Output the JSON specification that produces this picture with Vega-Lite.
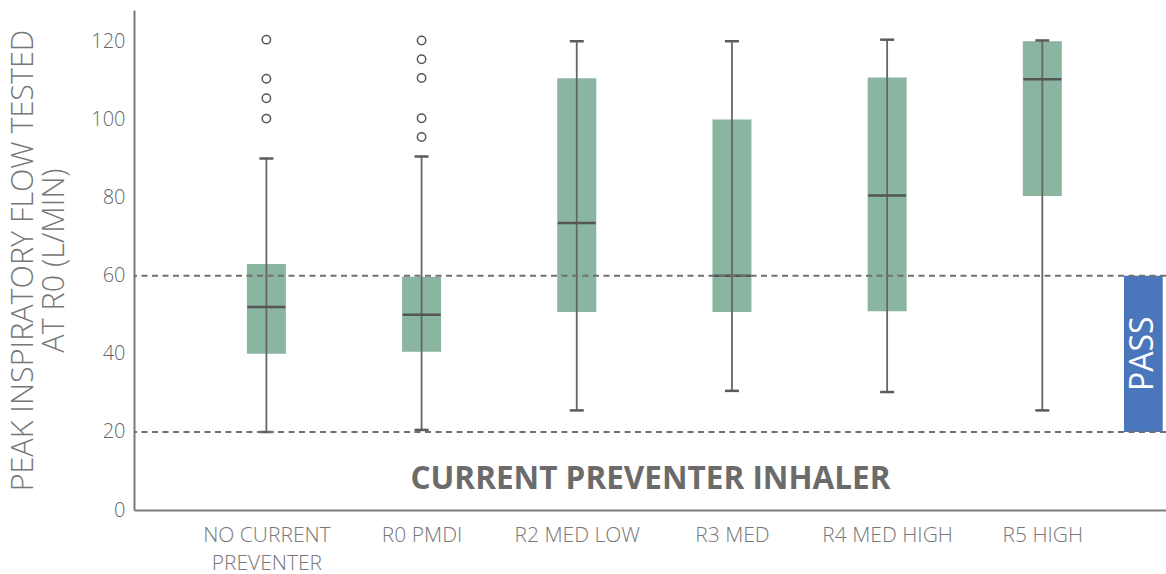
{
  "$schema": "https://vega.github.io/schema/vega-lite/v6.json",
  "width": 1032,
  "height": 500,
  "autosize": {"type": "none"},
  "padding": {"left": 134, "top": 10, "right": 0, "bottom": 64},
  "background": "white",
  "config": {
    "view": {"stroke": null},
    "font": "Open Sans",
    "axisY": {
      "titleFontSize": 30.5,
      "titleFontWeight": 300,
      "titleColor": "#777777",
      "titleLineHeight": 31,
      "titlePadding": 21,
      "labelFontSize": 20,
      "labelFontWeight": 300,
      "labelColor": "#666666",
      "labelPadding": 9,
      "ticks": false,
      "grid": false,
      "domainColor": "#7a7a7a",
      "domainWidth": 2
    }
  },
  "datasets": {
    "boxes": [
      {"cat": "NO CURRENT PREVENTER", "lower": 20, "q1": 40, "median": 52, "q3": 63, "upper": 90},
      {"cat": "R0 PMDI", "lower": 20.5, "q1": 40.5, "median": 50, "q3": 59.7, "upper": 90.5},
      {"cat": "R2 MED LOW", "lower": 25.5, "q1": 50.7, "median": 73.5, "q3": 110.5, "upper": 120},
      {"cat": "R3 MED", "lower": 30.5, "q1": 50.7, "median": 60, "q3": 100, "upper": 120},
      {"cat": "R4 MED HIGH", "lower": 30.2, "q1": 50.9, "median": 80.5, "q3": 110.7, "upper": 120.4},
      {"cat": "R5 HIGH", "lower": 25.5, "q1": 80.4, "median": 110.3, "q3": 120, "upper": 120.2}
    ],
    "outliers": [
      {"cat": "NO CURRENT PREVENTER", "value": 120.4},
      {"cat": "NO CURRENT PREVENTER", "value": 110.4},
      {"cat": "NO CURRENT PREVENTER", "value": 105.4},
      {"cat": "NO CURRENT PREVENTER", "value": 100.2},
      {"cat": "R0 PMDI", "value": 120.2},
      {"cat": "R0 PMDI", "value": 115.4},
      {"cat": "R0 PMDI", "value": 110.6},
      {"cat": "R0 PMDI", "value": 100.3},
      {"cat": "R0 PMDI", "value": 95.5}
    ],
    "thresholds": [{"v": 20}, {"v": 60}],
    "pass": [{"label": "PASS", "lo": 20, "hi": 60}]
  },
  "resolve": {"scale": {"x": "independent"}},
  "layer": [
    {
      "encoding": {
        "x": {
          "field": "cat",
          "type": "nominal",
          "sort": null,
          "scale": {
            "type": "point",
            "padding": 0.825,
            "align": 0.517,
            "domain": ["NO CURRENT PREVENTER", "R0 PMDI", "R2 MED LOW", "R3 MED", "R4 MED HIGH", "R5 HIGH"]
          },
          "axis": {
            "title": "CURRENT PREVENTER INHALER",
            "titleFontSize": 31.5,
            "titleFontWeight": "bold",
            "titleColor": "#6b6b6b",
            "titleY": -22,
            "titleBaseline": "alphabetic",
            "labelExpr": "datum.label == 'NO CURRENT PREVENTER' ? ['NO CURRENT', 'PREVENTER'] : datum.label",
            "labelFontSize": 21,
            "labelFontWeight": 300,
            "labelColor": "#777777",
            "labelPadding": 14,
            "labelLineHeight": 28,
            "labelAngle": 0,
            "labelLimit": 0,
            "ticks": false,
            "grid": false,
            "domainColor": "#7a7a7a",
            "domainWidth": 2
          }
        }
      },
      "layer": [
        {
          "data": {"name": "boxes"},
          "mark": {"type": "bar", "size": 39, "color": "#89b5a1"},
          "encoding": {
            "y": {
              "field": "q1",
              "type": "quantitative",
              "scale": {"domain": [0, 128], "nice": false, "zero": true},
              "axis": {"values": [0, 20, 40, 60, 80, 100, 120], "title": ["PEAK INSPIRATORY FLOW TESTED", "AT R0 (L/MIN)"]}
            },
            "y2": {"field": "q3"}
          }
        },
        {
          "data": {"name": "boxes"},
          "mark": {"type": "rule", "color": "#666666", "strokeWidth": 1.8},
          "encoding": {
            "y": {"field": "lower", "type": "quantitative", "axis": {"values": [0, 20, 40, 60, 80, 100, 120], "title": ["PEAK INSPIRATORY FLOW TESTED", "AT R0 (L/MIN)"]}},
            "y2": {"field": "upper"}
          }
        },
        {
          "data": {"name": "boxes"},
          "mark": {"type": "tick", "size": 38, "thickness": 2.5, "color": "#555555", "opacity": 1},
          "encoding": {
            "y": {"field": "median", "type": "quantitative", "axis": {"values": [0, 20, 40, 60, 80, 100, 120], "title": ["PEAK INSPIRATORY FLOW TESTED", "AT R0 (L/MIN)"]}}
          }
        },
        {
          "data": {"name": "boxes"},
          "mark": {"type": "tick", "size": 14, "thickness": 2.5, "color": "#5b5b5b", "opacity": 1},
          "encoding": {
            "y": {"field": "upper", "type": "quantitative", "axis": {"values": [0, 20, 40, 60, 80, 100, 120], "title": ["PEAK INSPIRATORY FLOW TESTED", "AT R0 (L/MIN)"]}}
          }
        },
        {
          "data": {"name": "boxes"},
          "mark": {"type": "tick", "size": 14, "thickness": 2.5, "color": "#5b5b5b", "opacity": 1},
          "encoding": {
            "y": {"field": "lower", "type": "quantitative", "axis": {"values": [0, 20, 40, 60, 80, 100, 120], "title": ["PEAK INSPIRATORY FLOW TESTED", "AT R0 (L/MIN)"]}}
          }
        },
        {
          "data": {"name": "outliers"},
          "mark": {"type": "point", "shape": "circle", "filled": false, "size": 70, "stroke": "#555555", "strokeWidth": 1.5, "opacity": 1},
          "encoding": {
            "y": {"field": "value", "type": "quantitative", "axis": {"values": [0, 20, 40, 60, 80, 100, 120], "title": ["PEAK INSPIRATORY FLOW TESTED", "AT R0 (L/MIN)"]}}
          }
        }
      ]
    },
    {
      "data": {"name": "pass"},
      "encoding": {
        "x": {
          "field": "label",
          "type": "nominal",
          "scale": {"type": "band", "paddingInner": 0.92208, "paddingOuter": 1, "align": 0.99668},
          "axis": null
        }
      },
      "layer": [
        {
          "mark": {"type": "rect", "color": "#4a76bb"},
          "encoding": {
            "y": {"field": "lo", "type": "quantitative", "axis": {"values": [0, 20, 40, 60, 80, 100, 120], "title": ["PEAK INSPIRATORY FLOW TESTED", "AT R0 (L/MIN)"]}},
            "y2": {"field": "hi"}
          }
        },
        {
          "mark": {"type": "text", "angle": 270, "align": "center", "baseline": "middle", "fontSize": 32, "color": "white", "text": "PASS"},
          "encoding": {
            "y": {"datum": 40, "type": "quantitative", "axis": {"values": [0, 20, 40, 60, 80, 100, 120], "title": ["PEAK INSPIRATORY FLOW TESTED", "AT R0 (L/MIN)"]}}
          }
        }
      ]
    },
    {
      "data": {"name": "thresholds"},
      "mark": {"type": "rule", "color": "#707070", "strokeWidth": 2, "strokeDash": [6, 4.5]},
      "encoding": {
        "y": {"field": "v", "type": "quantitative", "axis": {"values": [0, 20, 40, 60, 80, 100, 120], "title": ["PEAK INSPIRATORY FLOW TESTED", "AT R0 (L/MIN)"]}}
      }
    }
  ]
}
